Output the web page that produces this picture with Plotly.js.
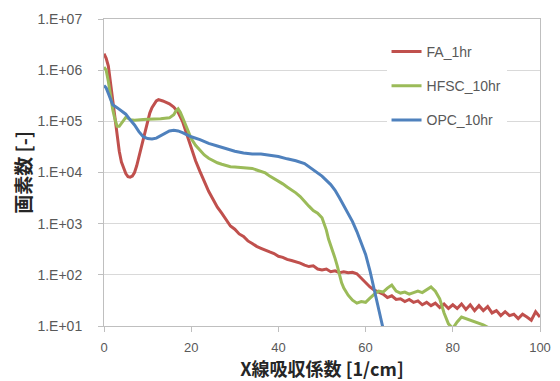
<!DOCTYPE html>
<html>
<head>
<meta charset="utf-8">
<script src="https://cdn.plot.ly/plotly-3.0.1.min.js"></script>
<style>html,body{margin:0;padding:0;background:#fff;}#chart{width:560px;height:381px;}</style>
</head>
<body>
<div id="chart"></div>
<script>
// ---- Data ----
const seriesNames = ["FA_1hr", "HFSC_10hr", "OPC_10hr"];

const faX = [0,0.5,1,1.5,2,2.5,3,3.5,4,4.5,5,5.5,6,6.5,7,7.5,8,8.5,9,9.5,10,10.5,11,11.5,12,12.5,13,13.5,14,15,16,17,18,19,20,
  21,22,23,24,25,26,27,28,29,30,31,32,33,34,35,36,37,38,39,40,41,42,43,44,45,46,47,48,49,50,
  51,52,53,54,55,56,57,58,59,60,61,62,63,64,65,66,67,68,69,70,71,72,73,74,75,76,77,78,79,80,
  81,82,83,84,85,86,87,88,89,90,91,92,93,94,95,96,97,98,99,100];
const faY = [2.1e6,1.7e6,1.2e6,5.5e5,2.6e5,1.0e5,5.0e4,2.6e4,1.6e4,1.2e4,9.5e3,8.3e3,8.1e3,8.5e3,1.0e4,1.35e4,2.0e4,3.0e4,4.6e4,7.0e4,1.05e5,1.45e5,1.85e5,2.2e5,2.5e5,2.65e5,2.6e5,2.5e5,2.4e5,2.2e5,1.9e5,1.5e5,1.0e5,5.5e4,3.0e4,
  1.7e4,1.05e4,6.5e3,4.3e3,3.0e3,2.1e3,1.6e3,1.2e3,9.0e2,7.8e2,6.3e2,5.6e2,4.6e2,4.1e2,3.6e2,3.3e2,3.0e2,2.8e2,2.6e2,2.3e2,2.2e2,2.0e2,1.9e2,1.8e2,1.7e2,1.55e2,1.45e2,1.5e2,1.3e2,1.25e2,
  1.3e2,1.15e2,1.2e2,1.1e2,1.15e2,1.1e2,1.12e2,1.05e2,8.5e1,7.0e1,5.8e1,5.0e1,4.5e1,4.2e1,3.6e1,3.9e1,3.3e1,3.4e1,3.0e1,3.3e1,2.9e1,3.1e1,2.6e1,2.9e1,2.5e1,2.8e1,2.3e1,2.7e1,2.2e1,2.6e1,
  2.2e1,2.7e1,2.1e1,2.6e1,2.0e1,2.5e1,2.0e1,2.4e1,1.8e1,2.0e1,1.6e1,1.9e1,1.6e1,1.7e1,1.4e1,1.7e1,1.5e1,1.3e1,1.9e1,1.5e1];

const hfscX = [0,0.5,1,1.5,2,2.5,3,3.5,4,4.5,5,5.5,6,7,8,9,10,11,12,13,14,15,16,16.5,17,17.5,18,18.5,19,19.5,20,
  21,22,23,24,25,26,27,28,29,30,31,32,33,34,35,36,37,38,39,40,41,42,43,44,45,46,47,48,49,50,50.5,51,51.5,52,52.5,53,53.5,54,54.5,55,
  56,57,58,59,60,61,62,63,64,65,66,67,68,69,70,71,72,73,74,75,76,77,78,79,80,81,82,83,84,85,86,87,88,89];
const hfscY = [1.15e6,1.0e6,6.0e5,3.0e5,1.7e5,1.1e5,8.0e4,8.0e4,9.0e4,1.05e5,1.2e5,1.15e5,1.08e5,1.05e5,1.05e5,1.08e5,1.1e5,1.1e5,1.12e5,1.12e5,1.15e5,1.17e5,1.35e5,1.6e5,1.75e5,1.5e5,1.2e5,9.5e4,7.5e4,5.8e4,4.6e4,
  3.4e4,2.7e4,2.2e4,1.9e4,1.7e4,1.55e4,1.45e4,1.35e4,1.3e4,1.28e4,1.25e4,1.25e4,1.22e4,1.2e4,1.12e4,1.05e4,9.8e3,8.5e3,7.6e3,6.6e3,6.0e3,5.2e3,4.6e3,4.0e3,3.4e3,2.8e3,2.2e3,1.8e3,1.6e3,1.3e3,1.0e3,7.5e2,5.0e2,3.8e2,2.8e2,2.1e2,1.5e2,1.0e2,7.0e1,5.5e1,
  4.0e1,3.2e1,2.8e1,3.0e1,2.9e1,3.5e1,4.2e1,4.8e1,4.6e1,5.5e1,6.3e1,4.8e1,4.4e1,4.6e1,4.2e1,4.5e1,4.8e1,4.5e1,5.2e1,5.8e1,4.8e1,3.4e1,1.8e1,1.1e1,9.0,1.2e1,1.5e1,1.4e1,1.3e1,1.2e1,1.1e1,1.05e1,9.5,8.0];

const opcX = [0,0.5,1,1.5,2,3,4,5,6,7,8,9,10,11,12,13,14,15,16,17,18,19,20,22,24,26,28,30,32,34,36,38,40,42,44,46,48,50,52,53,54,55,56,57,58,59,60,61,62,63,64];
const opcY = [5.0e5,4.5e5,3.5e5,2.7e5,2.1e5,1.85e5,1.6e5,1.38e5,1.07e5,8.5e4,6.3e4,5.0e4,4.6e4,4.5e4,4.7e4,5.2e4,5.9e4,6.5e4,6.7e4,6.5e4,6.0e4,5.5e4,5.0e4,4.4e4,3.7e4,3.3e4,2.9e4,2.6e4,2.4e4,2.3e4,2.3e4,2.2e4,2.05e4,1.85e4,1.7e4,1.5e4,1.15e4,8.5e3,5.8e3,4.5e3,3.2e3,2.2e3,1.6e3,1.1e3,7.0e2,4.2e2,2.5e2,1.2e2,5.0e1,2.3e1,9.0];

const xTicks = [0, 20, 40, 60, 80, 100];
const yTicks = [1e1, 1e2, 1e3, 1e4, 1e5, 1e6, 1e7];
const yTickText = ["1.E+01", "1.E+02", "1.E+03", "1.E+04", "1.E+05", "1.E+06", "1.E+07"];
const xTitle = "X線吸収係数 [1/cm]";
const yTitle = "画素数 [-]";

// ---- Styling ----
const colors = ["#C0504D", "#9BBB59", "#4F81BD"];
const xs = [faX, hfscX, opcX];
const ys = [faY, hfscY, opcY];

const traces = seriesNames.map((name, i) => ({
  type: "scatter", mode: "lines", name: name,
  x: xs[i], y: ys[i],
  legendgroup: "g" + i,
  line: { color: colors[i], width: 3, shape: "linear" },
  hoverinfo: "skip"
}));

const yTickFont = { family: "Liberation Sans, Arial, sans-serif", size: 14, color: "#595959" };
const xTickFont = { family: "Liberation Sans, Arial, sans-serif", size: 13, color: "#595959" };
const xTitleFont = { family: "Noto Sans CJK JP, sans-serif", size: 18, color: "#262626", weight: "bold" };
const yTitleFont = { family: "Noto Sans CJK JP, sans-serif", size: 19, color: "#262626", weight: "bold" };

const layout = {
  width: 560, height: 381,
  margin: { l: 104, r: 20, t: 19, b: 55 },
  paper_bgcolor: "#ffffff", plot_bgcolor: "#ffffff",
  showlegend: true,
  xaxis: {
    range: [0, 100], tickmode: "array", tickvals: xTicks,
    showgrid: false, zeroline: false,
    showline: true, linecolor: "#bfbfbf", linewidth: 1, mirror: true,
    ticks: "outside", ticklen: 5, tickcolor: "#bfbfbf",
    tickfont: xTickFont, ticklabelstandoff: 4,
    title: { text: xTitle, font: xTitleFont, standoff: 6 }
  },
  yaxis: {
    type: "log", range: [1, 7], tickmode: "array", tickvals: yTicks, ticktext: yTickText,
    showgrid: true, gridcolor: "#d9d9d9", gridwidth: 1, zeroline: false,
    showline: true, linecolor: "#bfbfbf", linewidth: 1, mirror: true,
    ticks: "outside", ticklen: 5, tickcolor: "#bfbfbf",
    tickfont: yTickFont, ticklabelstandoff: 13,
    title: { text: yTitle, font: yTitleFont, standoff: 0 }
  },
  legend: {
    x: 0.648, y: 0.945, xanchor: "left", yanchor: "top",
    bgcolor: "#ffffff", borderwidth: 0,
    font: { family: "Liberation Sans, Arial, sans-serif", size: 14, color: "#595959" },
    traceorder: "grouped", tracegroupgap: 13, itemwidth: 30
  }
};

Plotly.newPlot("chart", traces, layout, { staticPlot: true, displayModeBar: false });
</script>
</body>
</html>
